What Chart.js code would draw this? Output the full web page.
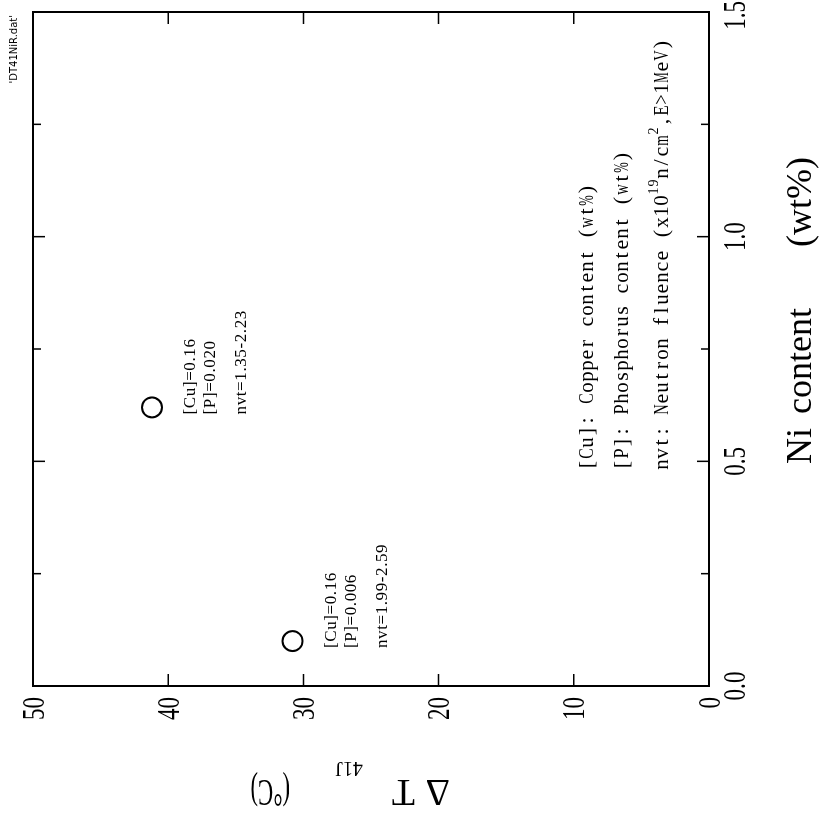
<!DOCTYPE html>
<html>
<head>
<meta charset="utf-8">
<title>ΔT41J vs Ni content</title>
<script src="https://cdn.jsdelivr.net/npm/chart.js@4.4.1/dist/chart.umd.min.js"></script>
<style>
  html, body { margin: 0; padding: 0; background: #fff; overflow: hidden; }
  body { width: 821px; height: 818px; position: relative; }
  /* the plot is laid out upright, then turned a quarter turn counter-clockwise */
  #turn { position: absolute; left: 0; top: 0; width: 818px; height: 821px;
          transform-origin: 0 0; transform: translate(0, 818px) rotate(-90deg); }
  #chart { display: block; }
</style>
</head>
<body>
<div id="turn"><canvas id="chart" width="818" height="821"></canvas></div>
<script>
// Ni content (wt%) and shift of the 41 J transition temperature (°C)
const niContent = [0.62, 0.10];
const deltaT41J = [41.2, 30.8];

// chemistry and fluence printed beside each point
const copperLabels = ['[Cu]=0.16', '[Cu]=0.16'];
const phosphorusLabels = ['[P]=0.020', '[P]=0.006'];
const fluenceLabels = ['nvt=1.35-2.23', 'nvt=1.99-2.59'];

// tick labels
const niTickLabels = ['0.0', '0.5', '1.0', '1.5'];
const dtTickLabels = ['0', '10', '20', '30', '40', '50'];

// key text; each part is [text, superscript?]
const keyCu = [['[Cu]: Copper content (wt%)', false]];
const keyP = [['[P]: Phosphorus content (wt%)', false]];
const keyNvt = [['nvt: Neutron fluence (x10', false], ['19', true], ['n/cm', false], ['2', true], [',E>1MeV)', false]];

const seriesName = "'DT41NiR.dat'";
const xTitleWords = ['Ni', 'content', '(wt%)'];

const SERIF = '"Liberation Serif", "Times New Roman", serif';
const NARROW = 0.72;

function labelFor(list, v) {
  const hit = list.find(l => Math.abs(parseFloat(l) - v) < 1e-6);
  return hit === undefined ? '' : hit;
}

// half-width fixed-pitch text, one glyph per cell
function drawFixedPitch(ctx, parts, x, y) {
  const adv = 11, supAdv = 8;
  let cx = x;
  ctx.textAlign = 'center';
  ctx.textBaseline = 'alphabetic';
  for (const [txt, sup] of parts) {
    ctx.font = (sup ? 14 : 22) + 'px ' + SERIF;
    const cell = sup ? supAdv : adv;
    for (const ch of txt) {
      if (ch !== ' ') {
        const w = ctx.measureText(ch).width;
        const k = w > cell * 0.95 ? (cell * 0.95) / w : 1;
        ctx.save();
        ctx.translate(cx + cell / 2, sup ? y - 10 : y);
        ctx.scale(k, 1);
        ctx.fillText(ch, 0, 0);
        ctx.restore();
      }
      cx += cell;
    }
  }
}

// narrow serif numerals for the tick labels
function drawNarrow(ctx, text, x, y, align) {
  ctx.save();
  ctx.translate(x, y);
  ctx.scale(NARROW, 1);
  ctx.textAlign = align;
  ctx.textBaseline = 'alphabetic';
  ctx.fillText(text, 0, 0);
  ctx.restore();
}

const framePlugin = {
  id: 'frame',
  afterDraw(chart) {
    const ctx = chart.ctx;
    const a = chart.chartArea;
    const sx = chart.scales.x, sy = chart.scales.y;
    ctx.save();
    ctx.strokeStyle = '#000';
    ctx.fillStyle = '#000';

    // inward tick marks on all four sides
    ctx.lineWidth = 1.5;
    ctx.beginPath();
    sx.ticks.forEach(t => {
      const p = sx.getPixelForValue(t.value);
      const len = t.label ? 12 : 8;
      ctx.moveTo(p, a.bottom); ctx.lineTo(p, a.bottom - len);
      ctx.moveTo(p, a.top); ctx.lineTo(p, a.top + len);
    });
    sy.ticks.forEach(t => {
      const p = sy.getPixelForValue(t.value);
      ctx.moveTo(a.left, p); ctx.lineTo(a.left + 12, p);
      ctx.moveTo(a.right, p); ctx.lineTo(a.right - 12, p);
    });
    ctx.stroke();

    // plot frame
    ctx.lineWidth = 2;
    ctx.strokeRect(a.left, a.top, a.right - a.left, a.bottom - a.top);

    // tick labels; the last one is kept inside the page edge
    ctx.font = '32px ' + SERIF;
    sx.ticks.forEach(t => {
      if (!t.label) return;
      const half = ctx.measureText(t.label).width * NARROW / 2;
      const cx = Math.min(sx.getPixelForValue(t.value), chart.width - half - 1);
      drawNarrow(ctx, t.label, cx, a.bottom + 36, 'center');
    });
    sy.ticks.forEach(t => {
      if (t.label) drawNarrow(ctx, t.label, a.left - 11, sy.getPixelForValue(t.value) + 10.5, 'right');
    });

    // series name, top right inside the frame
    ctx.font = '10px "DejaVu Sans", sans-serif';
    ctx.textAlign = 'right';
    ctx.textBaseline = 'alphabetic';
    ctx.fillText(chart.data.datasets[0].label, a.right - 3, 17);

    // chemistry beside each point
    const pts = chart.getDatasetMeta(0).data;
    ctx.font = '17px ' + SERIF;
    ctx.textAlign = 'left';
    if ('letterSpacing' in ctx) ctx.letterSpacing = '0.6px';
    pts.forEach((el, i) => {
      const x0 = el.x - 7;
      ctx.fillText(copperLabels[i], x0, el.y + 43);
      ctx.fillText(phosphorusLabels[i], x0, el.y + 63);
      ctx.fillText(fluenceLabels[i], x0, el.y + 94);
    });
    if ('letterSpacing' in ctx) ctx.letterSpacing = '0px';

    // key
    drawFixedPitch(ctx, keyCu, a.left + 216, 593);
    drawFixedPitch(ctx, keyP, a.left + 216, 628);
    drawFixedPitch(ctx, keyNvt, a.left + 216, 668);

    // x axis title
    ctx.font = '36px ' + SERIF;
    ctx.textAlign = 'left';
    ctx.fillText(xTitleWords[0], a.left + 222, 811);
    ctx.fillText(xTitleWords[1], a.left + 272, 811);
    ctx.fillText(xTitleWords[2], a.left + 439, 811);

    // y axis title, reading upwards
    ctx.save();
    ctx.translate(38, a.bottom - 259);
    ctx.rotate(-Math.PI / 2);
    ctx.font = '38px ' + SERIF;
    ctx.fillText('\u0394', 0, 0);
    ctx.fillText('T', 35, 0);
    ctx.font = '20px ' + SERIF;
    ctx.fillText('41J', 87, 18);
    ctx.translate(160, 0);
    ctx.scale(0.6, 1);
    ctx.font = '38px ' + SERIF;
    ctx.fillText('(\u00B0C)', 0, 0);
    ctx.restore();

    ctx.restore();
  }
};

new Chart(document.getElementById('chart'), {
  type: 'scatter',
  data: {
    datasets: [{
      label: seriesName,
      data: niContent.map((x, i) => ({ x, y: deltaT41J[i] })),
      pointStyle: 'circle',
      pointRadius: 10,
      pointHoverRadius: 10,
      borderColor: '#000',
      borderWidth: 2,
      backgroundColor: 'rgba(0,0,0,0)',
      showLine: false
    }]
  },
  options: {
    responsive: false,
    animation: false,
    devicePixelRatio: 1,
    events: [],
    layout: { padding: { top: 33, right: 9, left: 0, bottom: 0 } },
    plugins: { legend: { display: false }, tooltip: { enabled: false } },
    scales: {
      x: {
        type: 'linear', position: 'bottom', min: 0, max: 1.5,
        grid: { display: false, drawTicks: false },
        border: { display: false },
        ticks: {
          display: false, stepSize: 0.25, autoSkip: false,
          callback: v => labelFor(niTickLabels, v)
        },
        afterFit: s => { s.height = 112; }
      },
      y: {
        type: 'linear', position: 'left', min: 0, max: 50,
        grid: { display: false, drawTicks: false },
        border: { display: false },
        ticks: {
          display: false, stepSize: 10, autoSkip: false,
          callback: v => labelFor(dtTickLabels, v)
        },
        afterFit: s => { s.width = 132; }
      }
    }
  },
  plugins: [framePlugin]
});
</script>
</body>
</html>
